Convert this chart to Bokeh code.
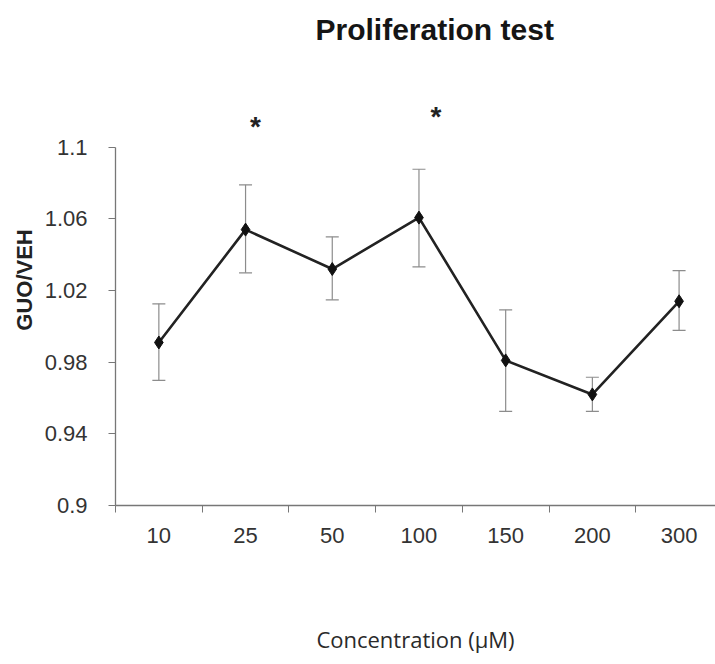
from bokeh.plotting import figure
from bokeh.models import Range1d, FixedTicker, Whisker, ColumnDataSource, TeeHead
from bokeh.core.properties import value
from bokeh.embed import file_html
from bokeh.resources import INLINE

# ---- data ----
concentrations = ["10", "25", "50", "100", "150", "200", "300"]
guo_veh = [0.991, 1.054, 1.032, 1.0607, 0.981, 0.962, 1.014]
err_upper = [1.0126, 1.079, 1.050, 1.0877, 1.0092, 0.9716, 1.0311]
err_lower = [0.9698, 1.0299, 1.0148, 1.0332, 0.9525, 0.9525, 0.9977]
y_ticks = [0.9, 0.94, 0.98, 1.02, 1.06, 1.1]
y_tick_labels = ["0.9", "0.94", "0.98", "1.02", "1.06", "1.1"]
sig_concentrations = ["25", "100"]
sig_marks = ["*", "*"]
sig_y = [1.1117, 1.1172]
title_text = "Proliferation test"

n = len(concentrations)
x_centers = [i + 0.5 for i in range(n)]
x_bounds = [float(i) for i in range(n + 1)]

src = ColumnDataSource(dict(x=x_centers, y=guo_veh, upper=err_upper, lower=err_lower))
sig_src = ColumnDataSource(dict(
    x=[concentrations.index(c) + 0.5 for c in sig_concentrations],
    y=sig_y, text=sig_marks, dx=[10, 17]))

p = figure(width=715, height=664, output_backend="svg", toolbar_location=None,
           x_range=Range1d(0, 6.92), y_range=Range1d(0.9, 1.15175),
           min_border_left=115, min_border_right=0, min_border_top=54,
           min_border_bottom=159)
p.outline_line_color = None
p.xgrid.visible = False
p.ygrid.visible = False
p.background_fill_color = "white"
p.border_fill_color = "white"

# title
p.title.text = title_text
p.title.text_font = "Liberation Sans"
p.title.text_font_size = "30px"
p.title.text_font_style = "bold"
p.title.text_color = "#151515"
p.title.align = "left"
p.title.offset = 200
p.title.standoff = 18

# error bars
err = Whisker(base="x", upper="upper", lower="lower", source=src,
              line_color="#8c8c8c", line_width=1.2,
              upper_head=TeeHead(size=13, line_color="#8c8c8c", line_width=1.2),
              lower_head=TeeHead(size=13, line_color="#8c8c8c", line_width=1.2))
p.add_layout(err)

p.line("x", "y", source=src, line_color="#222222", line_width=2.6)
p.scatter("x", "y", source=src, marker="diamond", size=13,
          fill_color="#111111", line_color="#111111")

# significance marks
p.text("x", "y", text="text", source=sig_src, x_offset="dx",
       text_font=value("Liberation Sans"), text_font_size="28px",
       text_font_style="bold", text_color="#222222",
       text_align="center", text_baseline="middle")

# y axis
ya = p.yaxis[0]
ya.ticker = FixedTicker(ticks=y_ticks)
ya.major_label_overrides = {t: l for t, l in zip(y_ticks, y_tick_labels)}
ya.bounds = (0.9, 1.1)
ya.axis_line_color = "#777777"
ya.axis_line_width = 1.3
ya.major_tick_line_color = "#777777"
ya.major_tick_out = 7
ya.major_tick_in = 0
ya.minor_tick_line_color = None
ya.major_label_standoff = 21
ya.major_label_text_font = "Liberation Sans"
ya.major_label_text_font_size = "22px"
ya.major_label_text_color = "#333333"
ya.axis_label = "GUO/VEH"
ya.axis_label_text_font = "Liberation Sans"
ya.axis_label_text_font_size = "22px"
ya.axis_label_text_font_style = "bold"
ya.axis_label_text_color = "#222222"
ya.axis_label_standoff = 5

# x axis
xa = p.xaxis[0]
xa.ticker = FixedTicker(ticks=x_centers, minor_ticks=x_bounds)
xa.major_label_overrides = {x: c for x, c in zip(x_centers, concentrations)}
xa.bounds = (0, n)
xa.axis_line_color = "#777777"
xa.axis_line_width = 1.3
xa.major_tick_line_color = None
xa.major_tick_out = 0
xa.major_tick_in = 0
xa.minor_tick_line_color = "#777777"
xa.minor_tick_out = 7
xa.minor_tick_in = 0
xa.major_label_standoff = 15
xa.major_label_text_font = "Liberation Sans"
xa.major_label_text_font_size = "22px"
xa.major_label_text_color = "#333333"
xa.axis_label = "Concentration (μM)"
xa.axis_label_text_font = "Open Sans"
xa.axis_label_text_font_size = "22px"
xa.axis_label_text_font_style = "normal"
xa.axis_label_text_color = "#2a2a2a"
xa.axis_label_standoff = 78

open("out.html", "w").write(file_html(p, INLINE))
